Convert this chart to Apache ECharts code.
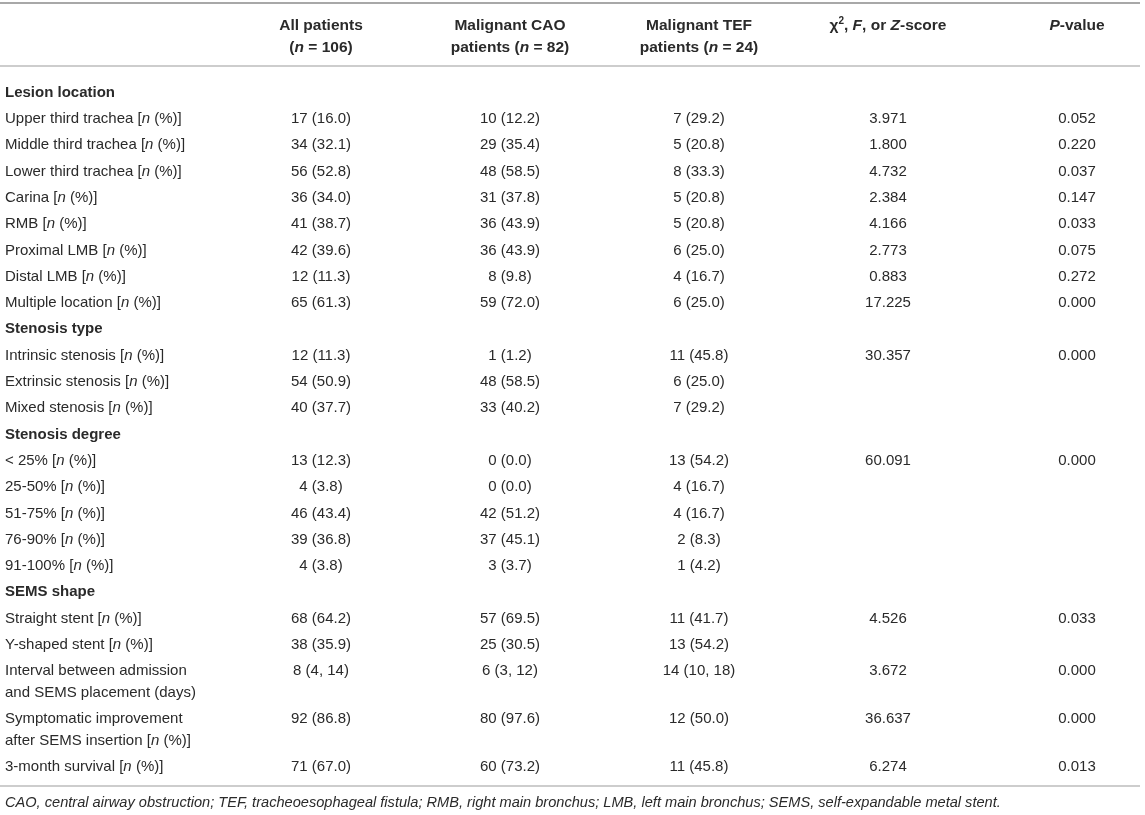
<!DOCTYPE html>
<html>
<head>
<meta charset="utf-8">
<title>SEMS patients table</title>
<script src="https://cdn.jsdelivr.net/npm/echarts@6/dist/echarts.min.js"></script>
<style>
    html, body { margin: 0; padding: 0; background: #fff; }
    #main { width: 1145px; height: 815px; }
</style>
</head>
<body>
<div id="main"></div>
<script>
// column headers (rich markup for italics / superscript)
var columnHeads = [
    'All patients\n({bi|n} = 106)',
    'Malignant CAO\npatients ({bi|n} = 82)',
    'Malignant TEF\npatients ({bi|n} = 24)',
    '{c|\u03c7}{sup|2}, {bi|F}, or {bi|Z}-score\n{b| }',
    '{bi|P}-value\n{b| }'
];

var sectionRows = ['Lesion location', 'Stenosis type', 'Stenosis degree', 'SEMS shape'];

var rowLabels = [
    'Lesion location',
    'Upper third trachea [n (%)]',
    'Middle third trachea [n (%)]',
    'Lower third trachea [n (%)]',
    'Carina [n (%)]',
    'RMB [n (%)]',
    'Proximal LMB [n (%)]',
    'Distal LMB [n (%)]',
    'Multiple location [n (%)]',
    'Stenosis type',
    'Intrinsic stenosis [n (%)]',
    'Extrinsic stenosis [n (%)]',
    'Mixed stenosis [n (%)]',
    'Stenosis degree',
    '< 25% [n (%)]',
    '25-50% [n (%)]',
    '51-75% [n (%)]',
    '76-90% [n (%)]',
    '91-100% [n (%)]',
    'SEMS shape',
    'Straight stent [n (%)]',
    'Y-shaped stent [n (%)]',
    'Interval between admission\nand SEMS placement (days)',
    'Symptomatic improvement\nafter SEMS insertion [n (%)]',
    '3-month survival [n (%)]'
];

var allPatients = ['', '17 (16.0)', '34 (32.1)', '56 (52.8)', '36 (34.0)', '41 (38.7)', '42 (39.6)', '12 (11.3)', '65 (61.3)',
    '', '12 (11.3)', '54 (50.9)', '40 (37.7)',
    '', '13 (12.3)', '4 (3.8)', '46 (43.4)', '39 (36.8)', '4 (3.8)',
    '', '68 (64.2)', '38 (35.9)', '8 (4, 14)', '92 (86.8)', '71 (67.0)'];

var caoPatients = ['', '10 (12.2)', '29 (35.4)', '48 (58.5)', '31 (37.8)', '36 (43.9)', '36 (43.9)', '8 (9.8)', '59 (72.0)',
    '', '1 (1.2)', '48 (58.5)', '33 (40.2)',
    '', '0 (0.0)', '0 (0.0)', '42 (51.2)', '37 (45.1)', '3 (3.7)',
    '', '57 (69.5)', '25 (30.5)', '6 (3, 12)', '80 (97.6)', '60 (73.2)'];

var tefPatients = ['', '7 (29.2)', '5 (20.8)', '8 (33.3)', '5 (20.8)', '5 (20.8)', '6 (25.0)', '4 (16.7)', '6 (25.0)',
    '', '11 (45.8)', '6 (25.0)', '7 (29.2)',
    '', '13 (54.2)', '4 (16.7)', '4 (16.7)', '2 (8.3)', '1 (4.2)',
    '', '11 (41.7)', '13 (54.2)', '14 (10, 18)', '12 (50.0)', '11 (45.8)'];

var testScore = ['', '3.971', '1.800', '4.732', '2.384', '4.166', '2.773', '0.883', '17.225',
    '', '30.357', '', '',
    '', '60.091', '', '', '', '',
    '', '4.526', '', '3.672', '36.637', '6.274'];

var pValue = ['', '0.052', '0.220', '0.037', '0.147', '0.033', '0.075', '0.272', '0.000',
    '', '0.000', '', '',
    '', '0.000', '', '', '', '',
    '', '0.033', '', '0.000', '0.000', '0.013'];

var footnote = 'CAO, central airway obstruction; TEF, tracheoesophageal fistula; RMB, right main bronchus; ' +
    'LMB, left main bronchus; SEMS, self-expandable metal stent.';

window.onload = function () {
    var FONT = '"Liberation Sans", Arial, Helvetica, sans-serif';
    var TEXT = '#2a2a2a';
    var LINE_H = 21.5;       // line height inside a wrapped cell
    var ROW_PX = 26.3;       // pitch between table rows
    var LINE_STEP = LINE_H / ROW_PX;
    var LABEL_X = 5;
    var HEAD_SIZE = 15.5;

    // vertical slot of each row, in row units (wrapped rows take more room)
    var rowPos = [];
    var acc = 1.01;
    rowLabels.forEach(function (lab) {
        rowPos.push(acc);
        acc += 1 + (lab.split('\n').length - 1) * LINE_STEP;
    });
    var yMax = rowPos[rowPos.length - 1] + 0.73;

    var columns = [allPatients, caoPatients, tefPatients, testScore, pValue];
    var cells = [];
    rowLabels.forEach(function (lab, r) {
        var bold = sectionRows.indexOf(lab) >= 0;
        cells.push({ col: -1, row: r, bold: bold, text: lab.replace('[n (%)]', '[{i|n} (%)]') });
        columns.forEach(function (arr, c) {
            if (arr[r] !== '') {
                cells.push({ col: c, row: r, bold: false, text: arr[r] });
            }
        });
    });

    var myChart = echarts.init(document.getElementById('main'));
    var option = {
        animation: false,
        // first and last data column sit on the grid edges
        grid: { left: 321, width: 756, top: 66, height: 720 },
        xAxis: {
            type: 'category',
            position: 'top',
            data: columnHeads,
            boundaryGap: false,
            axisLine: { show: false },
            axisTick: { show: false },
            splitLine: { show: false },
            axisLabel: {
                interval: 0,
                margin: 8,
                verticalAlign: 'bottom',
                color: TEXT,
                fontFamily: FONT,
                fontSize: HEAD_SIZE,
                fontWeight: 'bold',
                lineHeight: LINE_H,
                rich: {
                    b: { fontFamily: FONT, fontSize: HEAD_SIZE, fontWeight: 'bold', lineHeight: LINE_H, color: TEXT },
                    bi: { fontFamily: FONT, fontSize: HEAD_SIZE, fontWeight: 'bold', fontStyle: 'italic', lineHeight: LINE_H, color: TEXT },
                    c: { fontFamily: FONT, fontSize: HEAD_SIZE, lineHeight: LINE_H, color: TEXT },
                    sup: { fontFamily: FONT, fontSize: 10, fontWeight: 'bold', lineHeight: LINE_H, padding: [0, 0, 9, 0], color: TEXT }
                }
            }
        },
        yAxis: {
            type: 'value',
            inverse: true,
            min: 0,
            max: yMax,
            show: false
        },
        series: [{
            type: 'custom',
            clip: false,
            data: cells.map(function (c) { return [Math.max(c.col, 0), rowPos[c.row]]; }),
            renderItem: function (params, api) {
                var cell = cells[params.dataIndex];
                var pt = api.coord([api.value(0), api.value(1)]);
                var isLabel = cell.col < 0;
                return {
                    type: 'text',
                    style: {
                        text: cell.text,
                        x: isLabel ? LABEL_X : pt[0],
                        y: pt[1] - LINE_H / 2,
                        align: isLabel ? 'left' : 'center',
                        verticalAlign: 'top',
                        fontFamily: FONT,
                        fontSize: 15,
                        fontWeight: cell.bold ? 'bold' : 'normal',
                        lineHeight: LINE_H,
                        fill: TEXT,
                        rich: {
                            i: { fontFamily: FONT, fontSize: 15, fontStyle: 'italic', lineHeight: LINE_H, fill: TEXT }
                        }
                    }
                };
            }
        }],
        graphic: [
            { type: 'line', shape: { x1: 0, y1: 3, x2: 1140, y2: 3 }, style: { stroke: '#a8a8a8', lineWidth: 2 } },
            { type: 'line', shape: { x1: 0, y1: 66, x2: 1140, y2: 66 }, style: { stroke: '#bdbdbd', lineWidth: 1.5 } },
            { type: 'line', shape: { x1: 0, y1: 786, x2: 1140, y2: 786 }, style: { stroke: '#bdbdbd', lineWidth: 1.5 } },
            {
                type: 'text', left: LABEL_X, top: 795,
                style: { text: footnote, fontFamily: FONT, fontSize: 14.6, fontStyle: 'italic', fill: TEXT }
            }
        ]
    };
    myChart.setOption(option);
};
</script>
</body>
</html>
